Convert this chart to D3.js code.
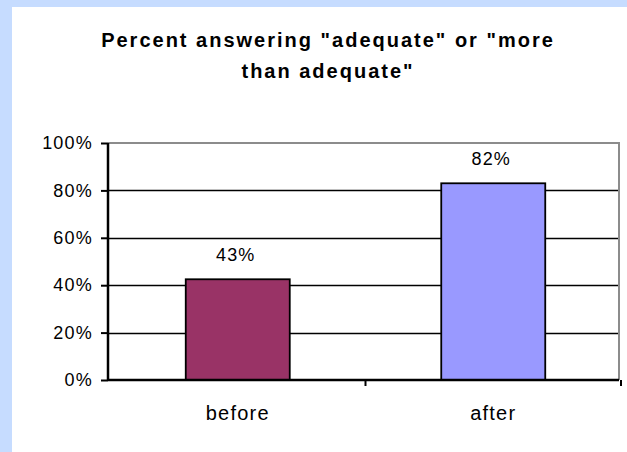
<!DOCTYPE html>
<html>
<head>
<meta charset="utf-8">
<script src="https://cdn.jsdelivr.net/npm/d3@7"></script>
<style>
  body { margin: 0; background: #c6dcff; }
  text { font-family: Arial, "Liberation Sans", sans-serif; }
</style>
</head>
<body>
<svg></svg>
<script>
const categories = ["before", "after"];
const values = [0.425, 0.83];
const valueLabels = ["43%", "82%"];
const yTicks = [0, 0.2, 0.4, 0.6, 0.8, 1];
const titleLines = ["Percent answering \"adequate\" or \"more", "than adequate\""];
const barColors = ["#993366", "#9999ff"];

const svg = d3.select("svg").attr("width", 627).attr("height", 452);
const width = +svg.attr("width");
const height = +svg.attr("height");

// white panel
svg.append("rect")
  .attr("x", 12).attr("y", 7)
  .attr("width", width - 12).attr("height", height - 7)
  .attr("fill", "white");

// title
svg.selectAll(".title")
  .data(titleLines)
  .enter()
  .append("text")
  .attr("x", 328)
  .attr("y", (d, i) => 47 + i * 31)
  .attr("text-anchor", "middle")
  .attr("font-size", "20px")
  .attr("font-weight", "bold")
  .attr("letter-spacing", "2px")
  .text(d => d);

const x0 = 108, x1 = 619, yTop = 143, yBot = 380;

const x = d3.scaleBand().domain(categories).range([x0, x1]).paddingInner(0).paddingOuter(0);
const y = d3.scaleLinear().domain([0, 1]).range([yBot, yTop]);

// gridlines
svg.selectAll(".grid")
  .data(yTicks.filter(t => t > 0 && t < 1))
  .enter()
  .append("line")
  .attr("x1", x0).attr("x2", x1)
  .attr("y1", d => Math.round(y(d)) + 0.5).attr("y2", d => Math.round(y(d)) + 0.5)
  .attr("stroke", "black").attr("stroke-width", 1.3);

// plot border (top and right)
svg.append("path")
  .attr("d", `M${x0},${y(1)}H${x1}V${yBot}`)
  .attr("fill", "none")
  .attr("stroke", "#8c8c8c")
  .attr("stroke-width", 2);

// bars
const barW = 104;
const cx = c => x(c) + x.bandwidth() / 2 + 2;
svg.selectAll(".bar")
  .data(values)
  .enter()
  .append("rect")
  .attr("x", (d, i) => cx(categories[i]) - barW / 2)
  .attr("y", d => y(d))
  .attr("width", barW)
  .attr("height", d => yBot - y(d))
  .attr("fill", (d, i) => barColors[i])
  .attr("stroke", "black")
  .attr("stroke-width", 1.8);

// value labels
svg.selectAll(".vlab")
  .data(values)
  .enter()
  .append("text")
  .attr("x", (d, i) => cx(categories[i]) - 2)
  .attr("y", d => y(d) - 18)
  .attr("text-anchor", "middle")
  .attr("font-size", "18px")
  .attr("letter-spacing", "1.2px")
  .text((d, i) => valueLabels[i]);

// y axis
const yAxis = d3.axisLeft(y).tickValues(yTicks).tickFormat(d3.format(".0%")).tickSize(7);
const gy = svg.append("g").attr("transform", `translate(${x0},0)`).call(yAxis);
gy.select(".domain").attr("stroke-width", 2.5).attr("d", `M0,${yTop}V${yBot}`);
gy.selectAll(".tick line").attr("stroke-width", 2);
gy.selectAll(".tick text")
  .attr("x", -15)
  .attr("font-size", "18px")
  .attr("letter-spacing", "1.2px")
  .attr("fill", "black")
  .attr("font-family", "Arial, 'Liberation Sans', sans-serif");

// x axis
const xAxis = d3.axisBottom(x).tickSize(0).tickPadding(26);
const gx = svg.append("g").attr("transform", `translate(0,${yBot})`).call(xAxis);
gx.select(".domain").attr("stroke-width", 2.5).attr("d", `M${x0},0H${x1}`);
gx.selectAll(".tick").attr("transform", d => `translate(${cx(d)},0)`);
gx.selectAll(".tick text")
  .attr("font-size", "20px")
  .attr("letter-spacing", "1.2px")
  .attr("fill", "black")
  .attr("font-family", "Arial, 'Liberation Sans', sans-serif");

// x separator ticks
svg.selectAll(".xsep")
  .data(categories)
  .enter()
  .append("line")
  .attr("x1", d => x(d) + x.bandwidth() + 2).attr("x2", d => x(d) + x.bandwidth() + 2)
  .attr("y1", yBot).attr("y2", yBot + 6)
  .attr("stroke", "black").attr("stroke-width", 2);
</script>
</body>
</html>
